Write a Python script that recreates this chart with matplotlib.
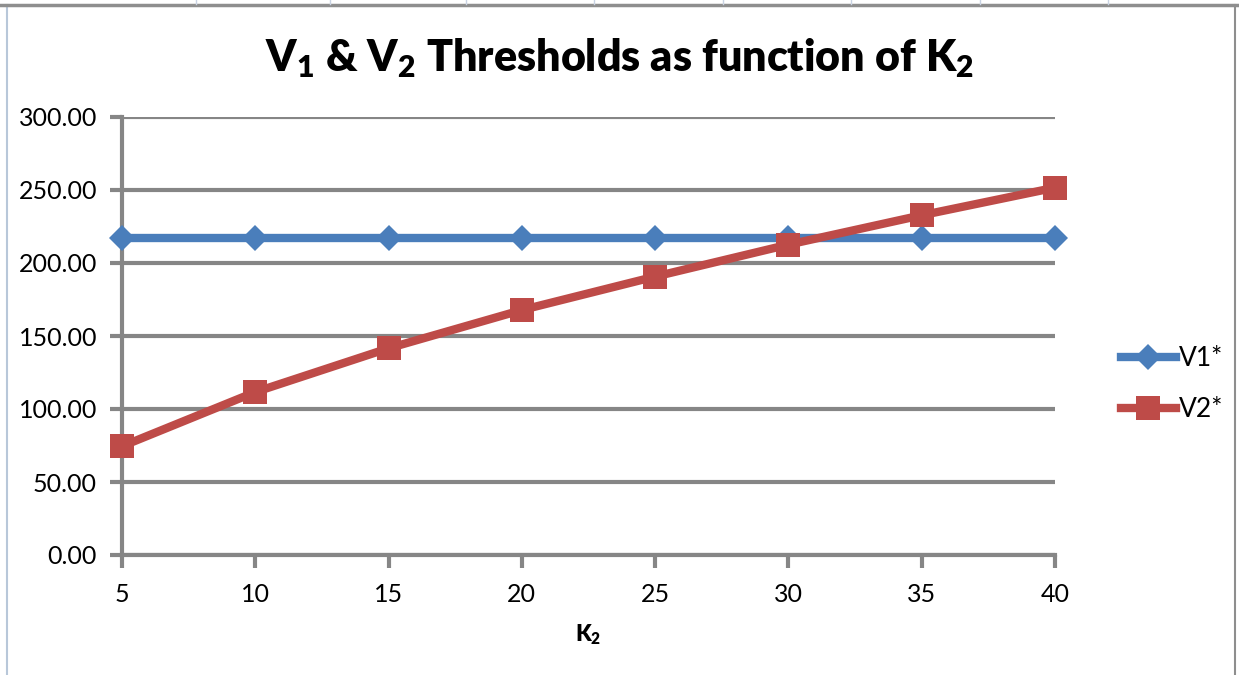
import matplotlib.pyplot as plt
from matplotlib.lines import Line2D

# data
k2 = [5, 10, 15, 20, 25, 30, 35, 40]
v1 = [216.8, 216.8, 216.8, 216.8, 216.8, 216.8, 216.8, 216.8]
v2 = [74.5, 111.6, 141.6, 167.8, 190.7, 212.6, 232.7, 251.6]
yticks = [0, 50, 100, 150, 200, 250, 300]

blue = '#4A7EBB'
red = '#BE4B48'
grey = '#868686'

plt.rcParams['font.family'] = ['Lato', 'DejaVu Sans']
plt.rcParams['mathtext.default'] = 'regular'

fig = plt.figure(figsize=(12.39, 6.75), dpi=100)
ax = fig.add_axes([122/1239, 120/675, (1055-122)/1239, (555-117)/675])

ax.plot(k2, v1, color=blue, linewidth=6, marker='D', markersize=13,
        markeredgewidth=0, label='V1*', clip_on=False, zorder=3)
ax.plot(k2, v2, color=red, linewidth=6, marker='s', markersize=17,
        markeredgewidth=0, label='V2*', clip_on=False, zorder=4)

ax.set_xlim(5, 40)
ax.set_ylim(0, 300)
ax.set_xticks(k2)
ax.set_yticks(yticks)
ax.set_yticklabels(['%.2f' % t for t in yticks])
ax.grid(axis='y', color=grey, linewidth=3)
ax.set_axisbelow(True)
for s in ['top', 'right']:
    ax.spines[s].set_visible(False)
for s in ['left', 'bottom']:
    ax.spines[s].set_color(grey)
    ax.spines[s].set_linewidth(3)
ax.tick_params(axis='both', colors=grey, width=3, length=9, labelsize=18,
               labelcolor='black')
ax.tick_params(axis='x', pad=11)
ax.tick_params(axis='y', pad=9)

ax.set_xlabel('K$_2$', fontsize=16, fontweight='heavy', labelpad=12)
fig.text(620/1239, 1 - 58/675, 'V$_1$ & V$_2$ Thresholds as function of K$_2$',
         ha='center', va='center', fontsize=31, fontweight='heavy')

ax.legend(loc='center left', bbox_to_anchor=(1.045, 0.39), frameon=False,
          fontsize=19, handlelength=2.1, handletextpad=0.1, labelspacing=1.0)

# chart frame and spreadsheet cell lines above it
fig.add_artist(Line2D([7/1239, 7/1239], [0, 1 - 5/675], color='#B8C7D9', linewidth=1.5))
fig.add_artist(Line2D([1235/1239, 1235/1239], [0, 1 - 5/675], color='#8E8E8E', linewidth=1.5))
fig.add_artist(Line2D([0, 1], [1 - 5/675, 1 - 5/675], color='#8E8E8E', linewidth=2.5))
for cx in [196, 330, 466, 594, 723, 851, 980, 1108]:
    fig.add_artist(Line2D([cx/1239, cx/1239], [1 - 4/675, 1], color='#C9D3E3', linewidth=1))

fig.savefig('out.png', dpi=100)
